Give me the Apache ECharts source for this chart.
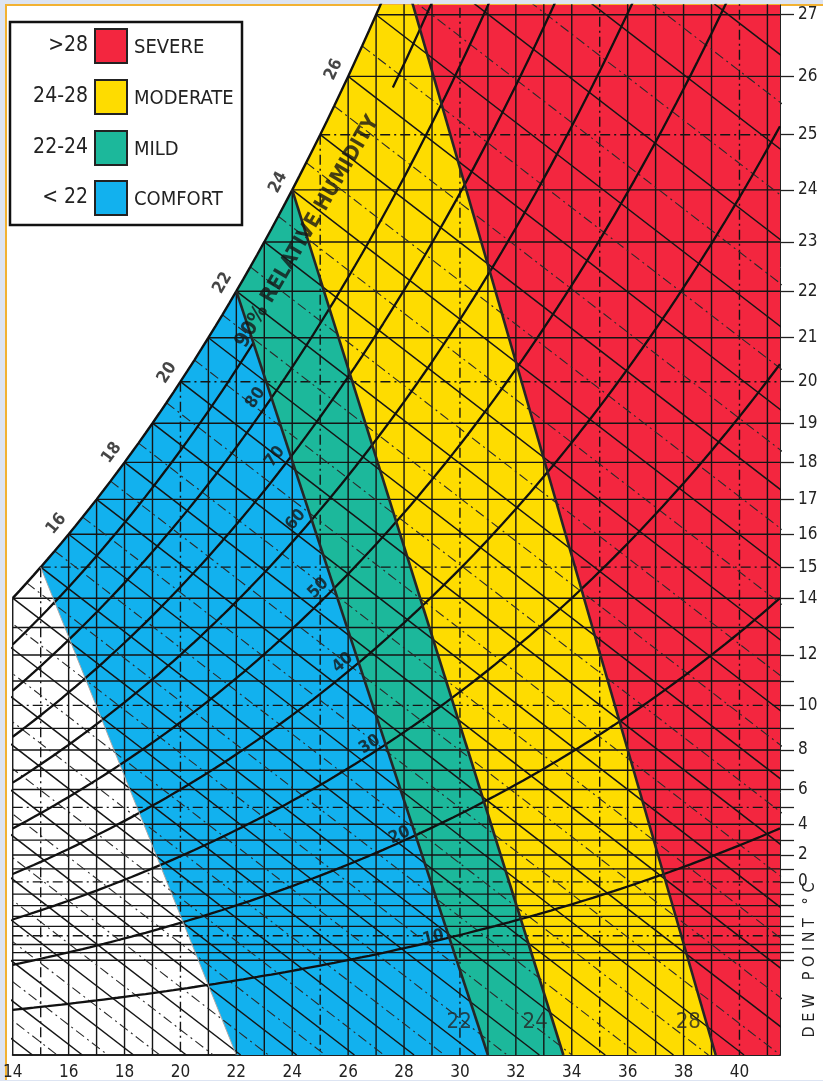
<!DOCTYPE html>
<html>
<head>
<meta charset="utf-8">
<script src="https://cdn.jsdelivr.net/npm/echarts@6/dist/echarts.min.js"></script>
<style>
html, body { margin: 0; padding: 0; background: #dde4f2; }
#paper { position: absolute; left: 5px; top: 4px; width: 818px; height: 1074px; background: #fff; border-left: 2px solid #f2b233; border-top: 2px solid #f2b233; }
#chart { position: absolute; left: 0; top: 0; width: 823px; height: 1081px; }
</style>
</head>
<body>
<div id="paper"></div>
<div id="chart"></div>
<script>
// axes: dry bulb temperature (x), dew point on a mixing-ratio scale (y)
const tempMin = 14
const tempMax = 41.45
const wMax = 22.9
const tempLines = [14,15,16,17,18,19,20,21,22,23,24,25,26,27,28,29,30,31,32,33,34,35,36,37,38,39,40,41]
const dewTicks = [-8,-7,-6,-5,-4,-3,-2,-1,0,1,2,3,4,5,6,7,8,9,10,11,12,13,14,15,16,17,18,19,20,21,22,23,24,25,26,27]
const dewLabels = [0,2,4,6,8,10,12,14,15,16,17,18,19,20,21,22,23,24,25,26,27]
const wetBulbs = [2,3,4,5,6,7,8,9,10,11,12,13,14,15,16,17,18,19,20,21,22,23,24,25,26,27,28,29,30]
const wetBulbHalf = [2.5,3.5,4.5,5.5,6.5,7.5,8.5,9.5,10.5,11.5,12.5,13.5,14.5,15.5,16.5,17.5,18.5,19.5,20.5,21.5,22.5,23.5,24.5,25.5,26.5,27.5,28.5,29.5]
const rhLevels = [10,20,30,40,50,60,70,80,90]
const satLabels = [16,18,20,22,24,26]

// discomfort zones
const zoneNames = ['COMFORT', 'MILD', 'MODERATE', 'SEVERE']
const zoneRanges = ['< 22', '22-24', '24-28', '>28']
const zoneColors = ['#12b1ee', '#1cb89b', '#fedc00', '#f3263f']
const boundaryTop = [15, 22, 24, 27.85]
const boundaryBottom = [22.0, 31.0, 33.7, 39.15]
const boundaryLabels = ['', '22', '24', '28']
const rh90TextEnd = 27.6

const P = 1013.25
const gamma = 0.47
const es = t => 6.112 * Math.exp(17.67 * t / (t + 243.5))
const wmix = e => 622 * e / (P - e)
const ws = t => wmix(es(t))
const dewFromW = w => {
  const l = Math.log(w * P / (622 + w) / 6.112)
  return 243.5 * l / (17.67 - l)
}

// layout
const gridBox = { left: 8, right: 43, top: 5, bottom: 26 }
const pxT = (823 - gridBox.left - gridBox.right) / (tempMax - tempMin)
const pxW = (1081 - gridBox.top - gridBox.bottom) / wMax
const FONT = '"DejaVu Sans Condensed", "DejaVu Sans", sans-serif'

const satPts = (t0, t1) => {
  const pts = []
  for (let t = t0; t < t1; t += 0.25) pts.push([t, ws(t)])
  pts.push([t1, ws(t1)])
  return pts
}
const clipTop = pts => {
  const out = []
  const cut = (a, b) => {
    const k = (wMax - a[1]) / (b[1] - a[1])
    return [a[0] + k * (b[0] - a[0]), wMax]
  }
  pts.forEach((cur, i) => {
    const prev = pts[(i - 1 + pts.length) % pts.length]
    const cin = cur[1] <= wMax
    const pin = prev[1] <= wMax
    if (cin) {
      if (!pin) out.push(cut(prev, cur))
      out.push(cur)
    } else if (pin) {
      out.push(cut(prev, cur))
    }
  })
  return out
}

const zonePolys = zoneNames.map((n, i) => {
  let pts
  if (i < zoneNames.length - 1) {
    pts = satPts(boundaryTop[i], boundaryTop[i + 1])
    pts.push([boundaryBottom[i + 1], 0], [boundaryBottom[i], 0])
  } else {
    const w0 = ws(boundaryTop[i])
    pts = [[boundaryTop[i], w0], [tempMax, w0], [tempMax, 0], [boundaryBottom[i], 0]]
  }
  return clipTop(pts)
})

const line = (data, width, type, color, z) => ({
  type: 'line',
  data,
  symbol: 'none',
  silent: true,
  animation: false,
  clip: true,
  z,
  lineStyle: { width, type, color }
})
const dashDot = [10, 4, 2, 4]
const series = []

series.push({
  type: 'custom',
  silent: true,
  animation: false,
  z: 1,
  data: zonePolys.map(() => [20, 5]),
  renderItem: (params, api) => ({
    type: 'polygon',
    shape: { points: zonePolys[params.dataIndex].map(p => api.coord(p)) },
    style: { fill: zoneColors[params.dataIndex] }
  })
})

// grid lines
dewTicks.forEach(d => {
  const w = ws(d)
  series.push(line([[Math.max(d, tempMin), w], [tempMax, w]], 1.4, d % 5 === 0 ? dashDot : 'solid', '#151515', 2))
})
tempLines.forEach(t => {
  series.push(line([[t, ws(t)], [t, 0]], 1.4, t % 5 === 0 ? dashDot : 'solid', '#151515', 2))
})
wetBulbs.forEach(tw => {
  series.push(line([[tw, ws(tw)], [tw + ws(tw) / gamma, 0]], 1.5, 'solid', '#151515', 2))
})
wetBulbHalf.forEach(tw => {
  series.push(line([[tw, ws(tw)], [tw + ws(tw) / gamma, 0]], 1.1, dashDot, '#2a2a2a', 2))
})

// relative humidity curves
const rhPts = (rh, t0, t1) => {
  const pts = []
  for (let t = t0; t < t1; t += 0.25) pts.push([t, wmix(rh / 100 * es(t))])
  pts.push([t1, wmix(rh / 100 * es(t1))])
  return pts
}
const line22 = t => ws(boundaryTop[1]) * (boundaryBottom[1] - t) / (boundaryBottom[1] - boundaryTop[1])
const rhCross = rh => {
  let a = boundaryTop[1], b = boundaryBottom[1]
  for (let k = 0; k < 40; k++) {
    const m = (a + b) / 2
    if (wmix(rh / 100 * es(m)) < line22(m)) a = m
    else b = m
  }
  return (a + b) / 2
}
rhLevels.forEach(rh => {
  if (rh === 90) {
    const tc = rhCross(90)
    series.push(line(rhPts(rh, tempMin, tc), 2.3, 'solid', '#111', 3))
    series.push(line(rhPts(rh, rh90TextEnd, 32), 2.3, 'solid', '#111', 3))
  } else {
    series.push(line(rhPts(rh, tempMin, tempMax), 2.3, 'solid', '#111', 3))
  }
})

// saturation curve and zone boundaries
series.push(line(satPts(tempMin, 29), 2.4, 'solid', '#111', 4))
boundaryTop.forEach((t, i) => {
  const first = i === 0
  series.push(line([[t, ws(t)], [boundaryBottom[i], 0]], first ? 1 : 2.6, 'solid', first ? '#a9a9a9' : '#262626', 4))
})

// labels along the saturation curve
const angleAt = f => t => Math.atan2((f(t + 0.05) - f(t - 0.05)) / 0.1 * pxW, pxT)
const satAngle = angleAt(ws)
const satLabelData = satLabels.map(t => {
  const a = satAngle(t)
  const d = 16
  return {
    value: [t - Math.sin(a) * d / pxT, ws(t) + Math.cos(a) * d / pxW],
    label: { formatter: String(t), rotate: a * 180 / Math.PI }
  }
})
const rhLabelData = rhLevels.map(rh => {
  const tc = rhCross(rh)
  const a = angleAt(t => wmix(rh / 100 * es(t)))(tc)
  if (rh === 90) {
    return {
      value: [tc - 13 / pxT, line22(tc) - 3 / pxW],
      label: { formatter: '90% RELATIVE HUMIDITY', rotate: a * 180 / Math.PI + 2, align: 'left', fontSize: 21 }
    }
  }
  return {
    value: [tc - 16 / pxT, line22(tc)],
    label: { formatter: String(rh), rotate: a * 180 / Math.PI }
  }
})
const bottomLabelData = boundaryLabels.map((s, i) => {
  if (!s) return null
  const wl = 0.72
  const top = ws(boundaryTop[i])
  const t = boundaryBottom[i] - (boundaryBottom[i] - boundaryTop[i]) * wl / top
  return { value: [t - 18 / pxT, wl], label: { formatter: s } }
}).filter(Boolean)

const labelSeries = (data, fontSize, weight, color) => ({
  type: 'scatter',
  data,
  symbolSize: 1,
  silent: true,
  animation: false,
  clip: false,
  z: 6,
  itemStyle: { color: 'rgba(0,0,0,0)' },
  label: {
    show: true,
    position: 'inside',
    color,
    fontFamily: FONT,
    fontSize,
    fontWeight: weight
  }
})
series.push(labelSeries(satLabelData, 17, 'bold', '#161616'))
series.push(labelSeries(rhLabelData, 17, 'bold', '#161616'))
series.push(labelSeries(bottomLabelData, 22, 'normal', '#262626'))

// legend box
const legendItems = []
legendItems.push({
  type: 'rect',
  shape: { x: 10, y: 22, width: 232, height: 203 },
  style: { fill: '#fff', stroke: '#111', lineWidth: 2.5 }
})
const rowsY = [29, 80, 131, 181]
zoneNames.slice().reverse().forEach((name, k) => {
  const i = zoneNames.length - 1 - k
  const y = rowsY[k]
  legendItems.push({
    type: 'rect',
    shape: { x: 95, y, width: 32, height: 34 },
    style: { fill: zoneColors[i], stroke: '#222', lineWidth: 2 }
  })
  legendItems.push({
    type: 'text',
    x: 88, y: y + 27,
    style: { text: zoneRanges[i], font: '21px ' + FONT, fill: '#222', align: 'right', verticalAlign: 'bottom', textAlign: 'right', textVerticalAlign: 'bottom' }
  })
  legendItems.push({
    type: 'text',
    x: 134, y: y + 29,
    style: { text: name, font: '20px ' + FONT, fill: '#222', align: 'left', verticalAlign: 'bottom', textAlign: 'left', textVerticalAlign: 'bottom' }
  })
})

const option = {
  animation: false,
  grid: gridBox,
  xAxis: {
    type: 'value',
    min: tempMin,
    max: tempMax,
    interval: 2,
    axisLine: { lineStyle: { color: '#222', width: 2 } },
    axisTick: { show: false },
    splitLine: { show: false },
    axisLabel: {
      showMaxLabel: false,
      margin: 9,
      color: '#222',
      fontFamily: FONT,
      fontSize: 17
    }
  },
  yAxis: {
    type: 'value',
    position: 'right',
    min: 0,
    max: wMax,
    axisLine: { show: true, lineStyle: { color: '#222', width: 1 } },
    axisTick: {
      show: true,
      customValues: dewTicks.map(ws),
      length: 14,
      lineStyle: { color: '#222', width: 1.3 }
    },
    splitLine: { show: false },
    axisLabel: {
      customValues: dewLabels.map(ws),
      formatter: v => String(Math.round(dewFromW(v))),
      margin: 18,
      color: '#222',
      fontFamily: FONT,
      fontSize: 17
    }
  },
  graphic: [
    { type: 'group', z: 100, children: legendItems },
    {
      type: 'text',
      z: 100,
      x: 810, y: 960,
      rotation: Math.PI / 2,
      style: { text: 'D E W   P O I N T   ° C', font: '16px ' + FONT, fill: '#222', align: 'center', verticalAlign: 'middle', textAlign: 'center', textVerticalAlign: 'middle' }
    }
  ],
  series
}

const chart = echarts.init(document.getElementById('chart'), null, { renderer: 'canvas' })
chart.setOption(option)
</script>
</body>
</html>
